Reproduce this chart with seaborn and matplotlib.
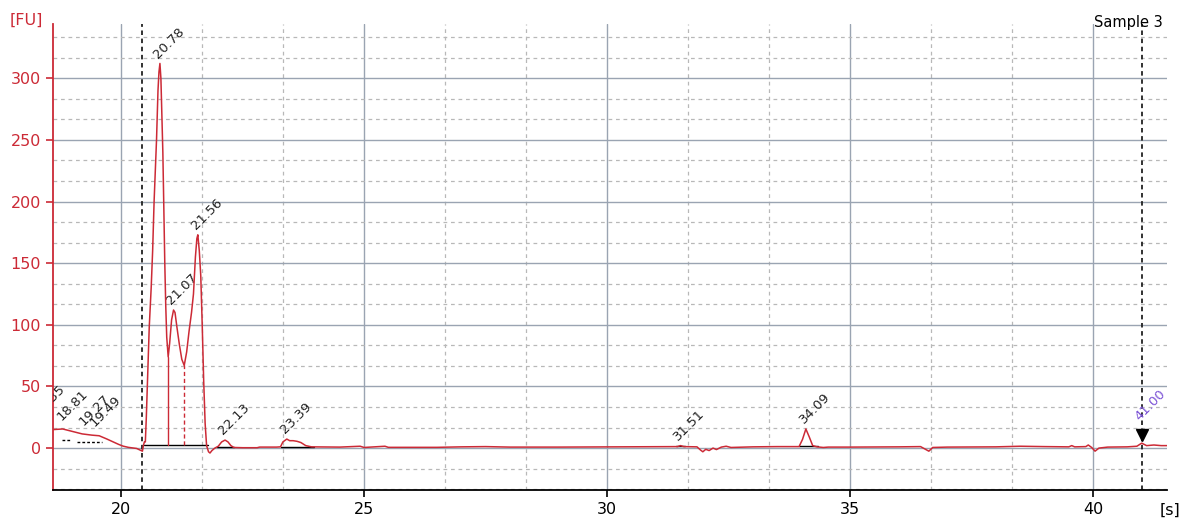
import numpy as np
import pandas as pd
import matplotlib
matplotlib.use("Agg")
import matplotlib.pyplot as plt
from matplotlib.ticker import MultipleLocator
import seaborn as sns

sns.set_style("white")
plt.rcParams['font.family'] = ['DejaVu Sans']

# electropherogram trace (time [s], fluorescence [FU])
time_s = [18.60, 18.80, 19.00, 19.20, 19.40, 19.55, 19.70, 19.84, 19.95, 20.04,
          20.15, 20.32, 20.40, 20.44, 20.46, 20.48, 20.50, 20.52, 20.54, 20.58,
          20.62, 20.65, 20.68, 20.71, 20.73, 20.76, 20.78, 20.80, 20.82, 20.84,
          20.86, 20.88, 20.90, 20.92, 20.94, 20.97, 21.00, 21.04, 21.08, 21.11,
          21.15, 21.20, 21.25, 21.30, 21.35, 21.40, 21.45, 21.49, 21.53, 21.56,
          21.58, 21.61, 21.64, 21.67, 21.70, 21.73, 21.76, 21.80, 21.83, 21.87,
          21.93, 22.00, 22.07, 22.14, 22.20, 22.26, 22.32, 22.50, 22.80, 22.85,
          23.20, 23.28, 23.33, 23.41, 23.47, 23.54, 23.62, 23.70, 23.80, 23.92,
          24.50, 24.92, 25.00, 25.43, 25.50, 26.50, 27.00, 27.50, 28.00, 29.00,
          30.00, 31.00, 31.45, 31.51, 31.58, 31.85, 31.92, 31.97, 32.03, 32.10,
          32.18, 32.25, 32.35, 32.45, 32.55, 33.00, 33.50, 33.95, 34.02, 34.09,
          34.16, 34.23, 34.32, 34.45, 34.55, 35.00, 36.00, 36.45, 36.55, 36.62,
          36.70, 37.00, 38.00, 38.50, 39.00, 39.50, 39.56, 39.62, 39.85, 39.90,
          39.97, 40.04, 40.12, 40.30, 40.70, 40.90, 41.00, 41.10, 41.25, 41.40,
          41.52]
fu = [15.0, 15.5, 13.5, 11.5, 10.5, 10.0, 7.5, 5.0, 3.0, 1.6,
      0.6, -0.3, -1.8, -2.5, 2.0, 5.0, 5.0, 25, 50, 98,
      130, 160, 200, 230, 250, 290, 305, 312, 300, 270,
      240, 195, 150, 115, 90, 74, 85, 104, 112, 110,
      98, 84, 72, 67, 78, 95, 110, 125, 155, 170,
      173, 160, 140, 100, 55, 20, 2, -3, -4, -2,
      0, 1.5, 5, 6.5, 5, 2, 0.5, 0.3, 0.3, 0.8,
      0.8, 1.0, 5, 7.3, 6, 6, 5.5, 4.5, 2, 1.0,
      0.8, 1.5, 0.5, 1.5, 0.6, 0.6, 1.0, 1.2, 0.8, 0.8,
      1.0, 1.2, 1.2, 2.0, 1.2, 1.0, -1.5, -3, -1, -2,
      0, -1.2, 0.8, 1.5, 0.5, 1.0, 1.2, 1.2, 7, 15.5,
      9, 2, 1.0, 0.5, 0.8, 0.8, 1.0, 1.2, -1, -2.5,
      0.5, 0.8, 1.0, 1.5, 1.2, 1.0, 2.0, 1.0, 1.2, 2.5,
      0.5, -2.5, 0, 0.8, 1.0, 1.5, 4, 2, 2.5, 2,
      2]

# peak labels
peak_labels = ["18.35", "18.81", "19.27", "19.49", "20.78", "21.07", "21.56",
               "22.13", "23.39", "31.51", "34.09"]
peak_x = [18.35, 18.81, 19.27, 19.49, 20.80, 21.08, 21.58, 22.14, 23.41, 31.51, 34.09]
peak_y = [22, 18, 14, 13, 312, 112, 173, 6.5, 7.3, 2.0, 15.5]

# peak baselines (start, end, level)
base_start = [20.48, 21.98, 23.30, 31.42, 33.95]
base_end = [21.78, 22.32, 23.98, 31.60, 34.33]
base_level = [2.5, 0.5, 1.0, 1.5, 1.5]
# small dashed baselines at the left
small_start = [18.78, 19.09]
small_end = [18.95, 19.60]
small_level = [6.5, 5.0]

# peak split lines (time, top)
split_x = [20.97, 21.30]
split_top = [74, 67]

marker_lines = [20.43, 41.00]
marker_time = 41.00
marker_value = 11

red = "#cc2a36"

df = pd.DataFrame({"time": time_s, "fu": fu})

fig = plt.figure(figsize=(11.8, 5.18), dpi=100)
ax = fig.add_axes([53 / 1180, 1 - 490 / 518, (1167 - 53) / 1180, (490 - 24) / 518])

ax.set_xlim(18.6, 41.52)
ax.set_ylim(-34, 344)
ax.xaxis.set_major_locator(MultipleLocator(5))
ax.xaxis.set_minor_locator(MultipleLocator(5 / 3))
ax.yaxis.set_major_locator(MultipleLocator(50))
ax.yaxis.set_minor_locator(MultipleLocator(50 / 3))
ax.grid(True, which="major", color="#9aa4b2", linewidth=1.0, linestyle="-")
ax.grid(True, which="minor", color="#b8b8b8", linewidth=0.9, linestyle=(0, (3, 3)))
ax.set_axisbelow(True)

for xv in marker_lines:
    ax.axvline(xv, color="#222222", linewidth=1.3, linestyle=(0, (2.5, 2)), zorder=2)

for s, e, l in zip(base_start, base_end, base_level):
    ax.plot([s, e], [l, l], color="black", linewidth=1.0, zorder=3)
for s, e, l in zip(small_start, small_end, small_level):
    ax.plot([s, e], [l, l], color="black", linewidth=1.0, linestyle=(0, (2, 1.5)), zorder=3)

ax.plot([split_x[0], split_x[0]], [base_level[0], split_top[0]], color=red, linewidth=1.0, zorder=3)
ax.plot([split_x[1], split_x[1]], [base_level[0], split_top[1]], color=red, linewidth=1.0,
        linestyle=(0, (3, 2)), zorder=3)

sns.lineplot(data=df, x="time", y="fu", ax=ax, color=red, linewidth=1.1,
             estimator=None, sort=False, zorder=4)

for txt, xv, yv in zip(peak_labels, peak_x, peak_y):
    ax.annotate(txt, (xv, yv), xytext=(0, 2), textcoords="offset points",
                rotation=45, rotation_mode="anchor", ha="left", va="bottom",
                fontsize=9.5, color="#222222", annotation_clip=False, clip_on=True)

ax.plot([marker_time], [marker_value], marker="v", color="black", markersize=9, zorder=5)
ax.annotate("41.00", (marker_time, marker_value), xytext=(0, 8), textcoords="offset points",
            rotation=45, rotation_mode="anchor", ha="left", va="bottom",
            fontsize=9.5, color="#7b52d6")

for sp in ["top", "right"]:
    ax.spines[sp].set_visible(False)
ax.spines["left"].set_color(red)
ax.spines["left"].set_linewidth(1.3)
ax.spines["bottom"].set_color("black")
ax.spines["bottom"].set_linewidth(1.3)

ax.tick_params(axis="y", which="major", direction="out", length=5, width=1.2,
               colors=red, labelsize=11.5, left=True)
ax.tick_params(axis="x", which="major", direction="out", length=5, width=1.2,
               colors="black", labelsize=11.5, bottom=True)
ax.tick_params(which="minor", length=0)
ax.set_xlabel("")
ax.set_ylabel("")

fig.text(10 / 1180, 1 - 20 / 518, "[FU]", color=red, fontsize=11.5, ha="left", va="center")
fig.text(1160 / 1180, 1 - 510 / 518, "[s]", color="black", fontsize=11.5, ha="left", va="center")
fig.text(1163 / 1180, 1 - 22 / 518, "Sample 3", color="black", fontsize=10.5, ha="right", va="center")

fig.savefig("out.png", dpi=100)
